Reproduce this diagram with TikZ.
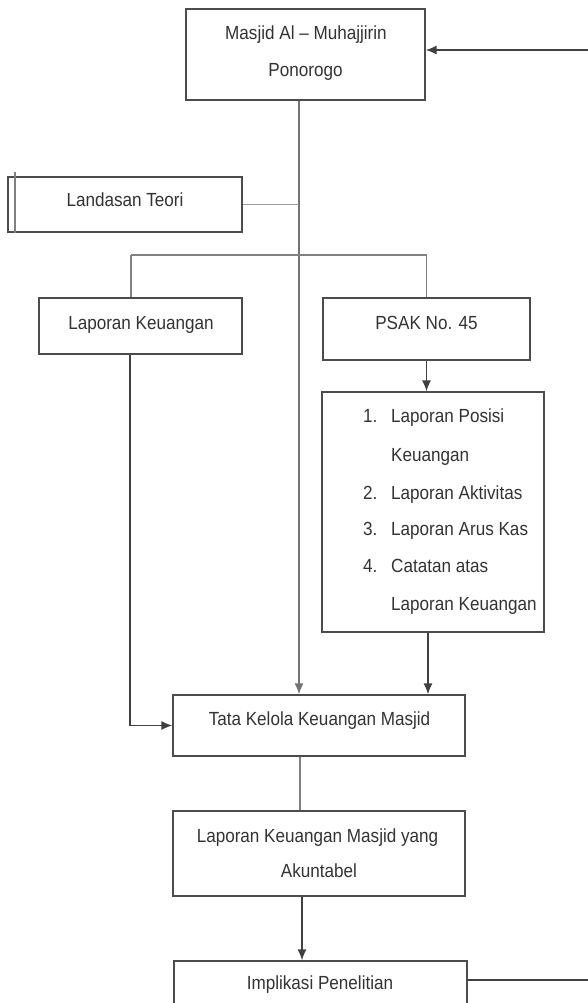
\documentclass[tikz,border=0pt]{standalone}
\usepackage{fontspec}
\setmainfont[FakeStretch=0.9]{Liberation Sans}
\usetikzlibrary{arrows.meta}
\begin{document}
\begin{tikzpicture}[x=1pt,y=-1pt,
  box/.style={draw=black!70,line width=1.3pt,rectangle,inner sep=0pt},
  txt/.style={anchor=base,inner sep=0pt,text=black!80,font=\fontsize{19}{37}\selectfont},
  ltxt/.style={txt,anchor=base west},
  conn/.style={draw=black!50,line width=1.4pt},
  arr/.style={draw=black!75,line width=1.4pt,-{Latex[length=11pt,width=9pt]}}]
\useasboundingbox (0,0) rectangle (588,1003);
\fill[white] (0,0) rectangle (588,1003);
% boxes
\node[box,minimum width=239pt,minimum height=91pt] (top) at (305.5,54.5) {};
\node[box,minimum width=234pt,minimum height=55pt] (lt) at (125,204.5) {};
\node[box,minimum width=203pt,minimum height=56pt] (lk) at (140.5,326) {};
\node[box,minimum width=207pt,minimum height=62pt] (psak) at (426.5,329) {};
\node[box,minimum width=222pt,minimum height=240pt] (list) at (433,512) {};
\node[box,minimum width=292pt,minimum height=61pt] (tata) at (319,725.5) {};
\node[box,minimum width=292pt,minimum height=85pt] (akun) at (319,853.5) {};
\node[box,minimum width=293pt,minimum height=50pt] (imp) at (320.5,986) {};
% texts
\node[txt] (t1) at (306,40) {Masjid Al – Muhajjirin};
\node[txt] (t2) at (305.5,77) {Ponorogo};
\node[txt] (t3) at (125,207) {Landasan Teori};
\node[txt] (t4) at (141,329.5) {Laporan Keuangan};
\node[txt] (t5) at (426.5,329) {PSAK No. 45};
\node[ltxt] (n1) at (363,422) {1.};
\node[ltxt] (l1) at (391,422) {Laporan Posisi};
\node[ltxt] (l1b) at (391,461.6) {Keuangan};
\node[ltxt] (n2) at (363,499.2) {2.};
\node[ltxt] (l2) at (391,499.2) {Laporan Aktivitas};
\node[ltxt] (n3) at (363,535.8) {3.};
\node[ltxt] (l3) at (391,535.8) {Laporan Arus Kas};
\node[ltxt] (n4) at (363,572.4) {4.};
\node[ltxt] (l4) at (391,572.4) {Catatan atas};
\node[ltxt] (l4b) at (391,610) {Laporan Keuangan};
\node[txt] (t6) at (319.5,725) {Tata Kelola Keuangan Masjid};
\node[txt] (t7) at (317.5,842) {Laporan Keuangan Masjid yang};
\node[txt] (t8) at (319,877) {Akuntabel};
\node[txt] (t9) at (320,989) {Implikasi Penelitian};
% helper coordinates
\coordinate (spine) at (299,0);
\coordinate (brL) at (131,255);
\coordinate (brR) at (426.5,255);
\coordinate (fbA) at (600,980);
\coordinate (fbB) at (600,50);
\coordinate (stub) at (15,172);
% connectors
\draw[conn] (stub) -- (stub |- lt.south);
\draw[arr,draw=black!55] (top.south -| spine) -- (tata.north -| spine);
\draw[conn,draw=black!40] (lt.east) -- (lt.east -| spine);
\draw[conn] (brL) -- (brR);
\draw[conn] (brL) -- (lk.north -| brL);
\draw[conn] (brR) -- (psak.north);
\draw[arr] (psak.south) -- (psak.south |- list.north);
\draw[arr] (list.south -| 428,0) -- (tata.north -| 428,0);
\draw[arr] (lk.south -| 130,0) |- (tata.west);
\draw[conn] (tata.south -| 300,0) -- (akun.north -| 300,0);
\draw[arr] (akun.south -| 302,0) -- (imp.north -| 302,0);
\draw[arr] (imp.east |- fbA) -- (fbA) -- (fbB) -- (top.east |- fbB);
\end{tikzpicture}
\end{document}
